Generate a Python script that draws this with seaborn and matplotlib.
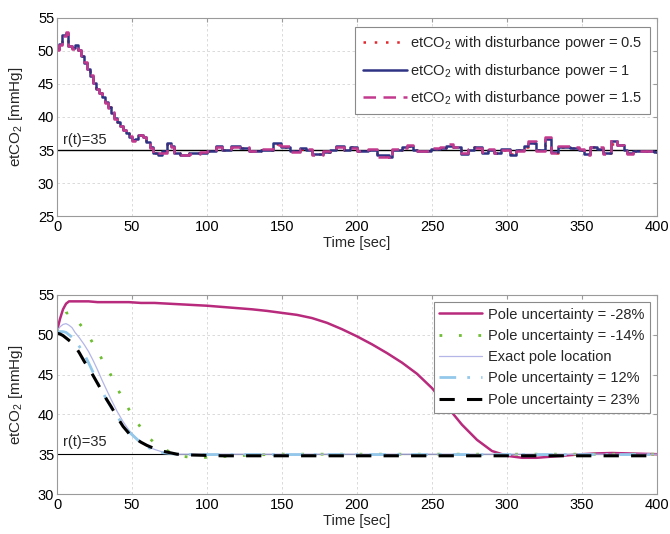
import matplotlib
matplotlib.use("Agg")
import matplotlib.pyplot as plt
import seaborn as sns

# ---- top panel: etCO2 under measurement disturbance (step signals) ----
t_top = [0, 1.5, 3, 6, 7.5, 10, 12, 14, 16, 18,
         20, 22, 24, 26, 28, 30, 32, 34, 36, 38,
         40, 42, 44, 46, 48, 50, 52, 54, 57, 59,
         62, 64, 67, 70, 73, 76, 78, 82, 88, 95,
         100, 106, 110, 116, 122, 128, 136, 144, 149, 155,
         162, 166, 170, 177, 182, 186, 191, 195, 200, 207,
         213, 221, 223, 230, 233, 237, 240, 249, 255, 259,
         264, 269, 274, 278, 283, 287, 291, 296, 302, 306,
         311, 314, 319, 325, 329, 334, 342, 348, 351, 355,
         360, 364, 369, 373, 378, 380, 384, 392, 398, 400]

etco2_p05 = [50.3, 51.0, 52.3, 52.8, 50.8, 50.4, 50.8, 50.2, 49.2, 48.2,
             47.3, 46.2, 45.2, 44.2, 43.7, 43.0, 42.2, 41.5, 40.6, 39.8,
             39.2, 38.7, 38.1, 37.6, 37.0, 36.5, 36.8, 37.2, 37.0, 36.1,
             35.4, 34.5, 34.4, 34.7, 35.9, 35.5, 34.5, 34.3, 34.5, 34.6,
             34.8, 35.5, 35.0, 35.5, 35.3, 34.8, 35.0, 35.9, 35.5, 34.8,
             35.2, 35.0, 34.4, 34.7, 35.0, 35.5, 35.0, 35.4, 34.8, 35.0,
             34.1, 34.2, 35.0, 35.4, 35.6, 35.0, 34.8, 35.2, 35.3, 35.7,
             35.4, 34.5, 35.0, 35.4, 34.6, 35.0, 34.5, 35.0, 34.4, 35.0,
             35.5, 36.1, 35.0, 35.9, 34.6, 35.5, 35.3, 35.0, 34.4, 35.4,
             35.3, 34.5, 35.9, 35.7, 35.0, 34.5, 34.8, 34.9, 34.7, 34.7]

etco2_p1 = [50.3, 51.0, 52.4, 52.8, 50.8, 50.4, 50.9, 50.2, 49.2, 48.2,
            47.3, 46.2, 45.2, 44.2, 43.7, 43.0, 42.2, 41.5, 40.6, 39.8,
            39.2, 38.7, 38.1, 37.6, 37.0, 36.5, 36.7, 37.3, 37.0, 36.2,
            35.5, 34.6, 34.3, 34.8, 36.0, 35.6, 34.6, 34.3, 34.5, 34.6,
            34.8, 35.6, 35.0, 35.6, 35.3, 34.8, 35.0, 36.0, 35.5, 34.8,
            35.3, 35.0, 34.4, 34.7, 35.0, 35.6, 35.0, 35.4, 34.8, 35.0,
            34.2, 33.9, 35.0, 35.5, 35.6, 35.0, 34.8, 35.2, 35.3, 35.6,
            35.5, 34.4, 35.0, 35.5, 34.6, 35.0, 34.5, 35.1, 34.3, 35.0,
            35.6, 36.0, 35.0, 36.6, 34.7, 35.5, 35.3, 35.0, 34.4, 35.4,
            35.2, 34.5, 36.3, 35.7, 35.0, 34.5, 34.8, 34.9, 34.7, 34.7]

etco2_p15 = [50.2, 50.9, 52.3, 52.9, 50.7, 50.3, 50.8, 50.1, 49.1, 48.3,
             47.2, 46.3, 45.1, 44.3, 43.6, 43.1, 42.1, 41.4, 40.7, 39.7,
             39.3, 38.6, 38.0, 37.5, 37.1, 36.4, 36.9, 37.2, 36.9, 36.0,
             35.3, 34.4, 34.5, 34.6, 35.8, 35.5, 34.5, 34.2, 34.4, 34.7,
             34.9, 35.4, 35.1, 35.5, 35.4, 34.9, 35.1, 35.8, 35.6, 34.7,
             35.2, 35.1, 34.3, 34.8, 35.1, 35.5, 35.1, 35.3, 34.9, 35.1,
             34.0, 33.6, 35.1, 35.3, 35.7, 35.1, 34.9, 35.3, 35.4, 35.9,
             35.4, 34.6, 35.1, 35.3, 34.7, 35.1, 34.6, 35.0, 34.4, 34.9,
             35.5, 36.3, 34.9, 36.9, 34.6, 35.6, 35.4, 35.1, 34.3, 35.5,
             35.4, 34.4, 36.6, 35.8, 34.9, 34.4, 34.9, 34.8, 34.8, 34.7]

# ---- bottom panel: etCO2 under pole uncertainty ----
t_bot = [0, 2, 4, 6, 8, 10, 12, 15, 18, 21, 24, 27, 30, 33, 36, 40, 44, 48,
         52, 56, 60, 65, 70, 75, 80, 90, 100, 110, 120, 130, 140, 150, 160,
         170, 180, 190, 200, 210, 220, 230, 240, 250, 260, 270, 280, 290,
         300, 310, 320, 330, 340, 350, 360, 370, 380, 390, 400]

pole_m28 = [50.5, 52.0, 53.2, 53.9, 54.2, 54.2, 54.2, 54.2, 54.2, 54.2, 54.15,
            54.1, 54.1, 54.1, 54.1, 54.1, 54.1, 54.1, 54.05, 54.0, 54.0, 54.0,
            53.95, 53.9, 53.85, 53.75, 53.65, 53.5, 53.35, 53.2, 53.0, 52.75,
            52.5, 52.1, 51.5, 50.7, 49.8, 48.8, 47.7, 46.5, 45.1, 43.3, 41.0,
            38.7, 36.8, 35.4, 34.8, 34.55, 34.55, 34.7, 34.85, 35.0, 35.1,
            35.15, 35.1, 35.05, 35.0]

pole_m14 = [50.5, 51.6, 52.3, 52.7, 52.8, 52.6, 52.2, 51.4, 50.7, 49.9, 48.9,
            48.0, 46.9, 46.0, 44.9, 43.3, 42.0, 40.6, 39.4, 38.3, 37.3, 36.4,
            35.8, 35.3, 34.8, 34.6, 34.6, 34.7, 34.8, 34.9, 34.95, 35.0, 35.0,
            35.0, 35.0, 35.0, 35.0, 35.0, 35.0, 35.0, 35.0, 35.0, 35.0, 35.0,
            35.0, 35.0, 35.0, 35.0, 35.0, 35.0, 35.0, 35.0, 35.0, 35.0, 35.0,
            35.0, 35.0]

pole_exact = [50.5, 51.0, 51.3, 51.4, 51.2, 50.9, 50.3, 49.6, 48.8, 47.9, 46.8,
              45.6, 44.3, 43.1, 41.9, 40.4, 39.1, 38.0, 37.2, 36.5, 36.0, 35.6,
              35.3, 35.1, 35.0, 35.0, 35.0, 35.0, 35.0, 35.0, 35.0, 35.0, 35.0,
              35.0, 35.0, 35.0, 35.0, 35.0, 35.0, 35.0, 35.0, 35.0, 35.0, 35.0,
              35.0, 35.0, 35.0, 35.0, 35.0, 35.0, 35.0, 35.0, 35.0, 35.0, 35.0,
              35.0, 35.0]

pole_p12 = [50.3, 50.4, 50.4, 50.3, 50.0, 49.7, 49.3, 48.5, 47.6, 46.5, 45.3,
            44.0, 42.9, 41.9, 40.9, 39.7, 38.8, 37.8, 37.1, 36.4, 35.9, 35.5,
            35.2, 35.1, 35.0, 34.95, 34.95, 34.95, 34.95, 34.95, 34.95, 34.95,
            34.95, 34.95, 34.95, 34.95, 34.95, 34.95, 34.95, 34.95, 34.95,
            34.95, 34.95, 34.95, 34.95, 34.95, 34.95, 34.95, 34.95, 34.95,
            34.95, 34.95, 34.95, 34.95, 34.95, 34.95, 34.95]

pole_p23 = [50.2, 50.1, 49.9, 49.6, 49.3, 49.0, 48.6, 47.7, 46.7, 45.8, 44.9,
            43.9, 42.9, 41.9, 41.0, 39.7, 38.5, 37.6, 37.0, 36.5, 36.1, 35.7,
            35.4, 35.2, 35.0, 34.9, 34.85, 34.8, 34.8, 34.8, 34.8, 34.8, 34.8,
            34.8, 34.8, 34.8, 34.8, 34.8, 34.8, 34.8, 34.8, 34.8, 34.8, 34.8,
            34.8, 34.8, 34.8, 34.8, 34.8, 34.8, 34.8, 34.8, 34.8, 34.8, 34.8,
            34.8, 34.8]

setpoint = 35

sns.set_theme(style="whitegrid")
plt.rcParams.update({
    'font.family': ['Liberation Sans', 'DejaVu Sans'],
    'mathtext.default': 'regular',
    'axes.edgecolor': '#9a9a9a',
    'axes.linewidth': 0.8,
    'xtick.direction': 'in',
    'ytick.direction': 'in',
    'xtick.top': True,
    'ytick.right': True,
    'xtick.color': '#9a9a9a',
    'ytick.color': '#9a9a9a',
    'xtick.labelcolor': 'black',
    'ytick.labelcolor': 'black',
    'xtick.major.size': 3,
    'ytick.major.size': 3,
    'xtick.major.width': 0.8,
    'ytick.major.width': 0.8,
    'xtick.major.pad': 3,
    'ytick.major.pad': 2,
    'xtick.labelsize': 10.5,
    'ytick.labelsize': 10.5,
})

fig = plt.figure(figsize=(6.7, 5.34), dpi=100)
ax1 = fig.add_axes([0.0851, 0.5955, 0.8955, 0.3708])
ax2 = fig.add_axes([0.0851, 0.0749, 0.8955, 0.3727])

# top panel
sns.lineplot(x=t_top, y=etco2_p05, ax=ax1, drawstyle='steps-post', color='#e3262b',
             linestyle=(0, (1, 3.5)), linewidth=1.8, errorbar=None,
             label=r'etCO$_2$ with disturbance power = 0.5')
sns.lineplot(x=t_top, y=etco2_p1, ax=ax1, drawstyle='steps-post', color='#2e3383',
             linewidth=1.8, errorbar=None,
             label=r'etCO$_2$ with disturbance power = 1')
sns.lineplot(x=t_top, y=etco2_p15, ax=ax1, drawstyle='steps-post', color='#c23a8e',
             linestyle=(0, (5, 3)), linewidth=1.8, errorbar=None,
             label=r'etCO$_2$ with disturbance power = 1.5')
ax1.axhline(setpoint, color='black', linewidth=1.0, zorder=1.5)
ax1.text(4, 35.4, 'r(t)=35', fontsize=10.5, va='bottom', ha='left')
ax1.set_xlim(0, 400)
ax1.set_ylim(25, 55)
ax1.set_xticks(range(0, 401, 50))
ax1.set_yticks(range(25, 56, 5))

# bottom panel
sns.lineplot(x=t_bot, y=pole_m28, ax=ax2, color='#b82a7c', linewidth=1.8,
             errorbar=None, label='Pole uncertainty = -28%')
sns.lineplot(x=t_bot, y=pole_m14, ax=ax2, color='#6fbd32', linewidth=2.0,
             linestyle=(0, (1, 6)), errorbar=None, label='Pole uncertainty = -14%')
sns.lineplot(x=t_bot, y=pole_exact, ax=ax2, color='#b3b6e6', linewidth=0.9,
             errorbar=None, label='Exact pole location')
sns.lineplot(x=t_bot, y=pole_p12, ax=ax2, color='#94c8ea', linewidth=2.0,
             linestyle=(0, (6, 4, 1, 4)), errorbar=None, label='Pole uncertainty = 12%')
sns.lineplot(x=t_bot, y=pole_p23, ax=ax2, color='black', linewidth=2.2,
             linestyle=(0, (5, 4)), errorbar=None, label='Pole uncertainty = 23%')
ax2.axhline(setpoint, color='black', linewidth=0.8, zorder=1.5)
ax2.text(4, 35.6, 'r(t)=35', fontsize=10.5, va='bottom', ha='left')
ax2.set_xlim(0, 400)
ax2.set_ylim(30, 55)
ax2.set_xticks(range(0, 401, 50))
ax2.set_yticks(range(30, 56, 5))

for ax in (ax1, ax2):
    ax.grid(True, color='#d4d4d4', linestyle=(0, (3, 3)), linewidth=0.6)
    ax.set_facecolor('white')
    for sp in ax.spines.values():
        sp.set_visible(True)
        sp.set_color('#9a9a9a')
    ax.set_xlabel('Time [sec]', fontsize=10.5, labelpad=1)
    ax.set_ylabel(r'etCO$_2$ [mmHg]', fontsize=11, labelpad=9)

leg1 = ax1.legend(loc='upper right', bbox_to_anchor=(0.988, 0.955), fontsize=10.5,
                  handlelength=3.0, handletextpad=0.25, labelspacing=0.65,
                  borderpad=0.5, borderaxespad=0,
                  fancybox=False, framealpha=1, edgecolor='#8a8a8a')
leg1.get_frame().set_linewidth(0.8)
leg2 = ax2.legend(loc='upper right', bbox_to_anchor=(0.988, 0.966), fontsize=10.5,
                  handlelength=2.95, handletextpad=0.35, labelspacing=0.5,
                  borderpad=0.4, borderaxespad=0,
                  fancybox=False, framealpha=1, edgecolor='#8a8a8a')
leg2.get_frame().set_linewidth(0.8)

fig.savefig('out.png', dpi=100, facecolor='white')
